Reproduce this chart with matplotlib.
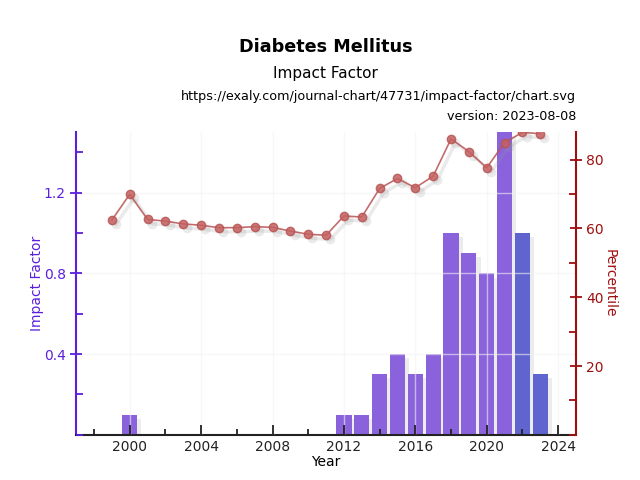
import matplotlib.pyplot as plt
import matplotlib.patheffects as pe
from matplotlib.transforms import offset_copy
from matplotlib.ticker import MultipleLocator

# impact factor bars
bar_years = [2000, 2012, 2013, 2014, 2015, 2016, 2017, 2018, 2019, 2020, 2021, 2022, 2023]
impact = [0.1, 0.1, 0.1, 0.3, 0.4, 0.3, 0.4, 1.0, 0.9, 0.8, 1.5, 1.0, 0.3]
bar_colors = ['#8a62dc'] * 11 + ['#6064cf', '#6064cf']

# percentile line
pct_years = list(range(1999, 2024))
percentile = [62.4, 69.9, 62.6, 62.1, 61.3, 60.9, 60.2, 60.2, 60.5, 60.3, 59.2, 58.3, 58.0,
              63.6, 63.3, 71.6, 74.5, 71.8, 75.2, 86.0, 82.3, 77.6, 84.9, 87.9, 87.5]

left_col = '#5b1fdc'
right_col = '#a00f0f'

fig = plt.figure(figsize=(6.4, 4.8), dpi=100)
ax = fig.add_axes([0.119, 0.094, 0.781, 0.631])

shadow = [pe.SimplePatchShadow(offset=(3, -3), shadow_rgbFace='#999999', alpha=0.18), pe.Normal()]
bars = ax.bar(bar_years, impact, width=0.85, color=bar_colors, edgecolor='none', zorder=2)
for b in bars:
    b.set_path_effects(shadow)

ax.set_xlim(1997, 2025)
ax.set_ylim(0, 1.5)
ax.xaxis.set_major_locator(MultipleLocator(4))
ax.xaxis.set_minor_locator(MultipleLocator(2))
ax.yaxis.set_minor_locator(MultipleLocator(0.2))
ax.set_yticks([0.4, 0.8, 1.2])
ax.set_yticklabels(['0.4', '0.8', '1.2'])
ax.grid(True, axis='both', which='major', color='#f2f2f2', alpha=0.6, linewidth=1, zorder=3)
ax.set_axisbelow(False)

for s in ['top', 'right']:
    ax.spines[s].set_visible(False)
ax.spines['left'].set_color(left_col)
ax.spines['left'].set_linewidth(1.5)
ax.spines['bottom'].set_color('#222222')
ax.spines['bottom'].set_linewidth(1.5)
ax.tick_params(axis='y', which='major', colors=left_col, direction='inout', length=8, width=1.3, labelsize=10)
ax.tick_params(axis='y', which='minor', colors=left_col, direction='in', length=5, width=1.3)
ax.tick_params(axis='x', which='major', colors='#222222', direction='in', length=7, width=1.3, labelsize=10)
ax.tick_params(axis='x', which='minor', colors='#222222', direction='in', length=4, width=1.3)
ax.set_xlabel('Year', fontsize=10, labelpad=1)
ax.set_ylabel('Impact Factor', color=left_col, fontsize=10, labelpad=0)

ax2 = ax.twinx()
# soft drop shadow for the percentile line
sh_tr = offset_copy(ax2.transData, fig=fig, x=3, y=-3, units='points')
ax2.plot(pct_years, percentile, color='#999999', linewidth=2.5, marker='o', markersize=7,
         markeredgecolor='none', alpha=0.2, transform=sh_tr, zorder=3)
ax2.plot(pct_years, percentile, color='#b85454', linewidth=1.2, marker='o', markersize=6,
         markerfacecolor='#c46060', markeredgecolor='#b85454', alpha=0.85, zorder=4)
ax2.set_ylim(0, 88)
ax2.yaxis.set_minor_locator(MultipleLocator(10))
ax2.set_yticks([20, 40, 60, 80])
for s in ['top', 'left', 'bottom']:
    ax2.spines[s].set_visible(False)
ax2.spines['right'].set_color(right_col)
ax2.spines['right'].set_linewidth(1.5)
ax2.tick_params(axis='y', which='major', colors=right_col, direction='inout', length=8, width=1.3, labelsize=10)
ax2.tick_params(axis='y', which='minor', colors=right_col, direction='in', length=5, width=1.3)
ax2.set_ylabel('Percentile', color=right_col, fontsize=10, rotation=270, labelpad=9)

fig.text(0.509, 0.902, 'Diabetes Mellitus', ha='center', va='center', fontsize=12.7, fontweight='bold')
fig.text(0.509, 0.846, 'Impact Factor', ha='center', va='center', fontsize=11)
fig.text(0.9, 0.798, 'https://exaly.com/journal-chart/47731/impact-factor/chart.svg',
         ha='right', va='center', fontsize=9.2)
fig.text(0.9, 0.758, 'version: 2023-08-08', ha='right', va='center', fontsize=9.2)

fig.savefig('out.png', dpi=100)
